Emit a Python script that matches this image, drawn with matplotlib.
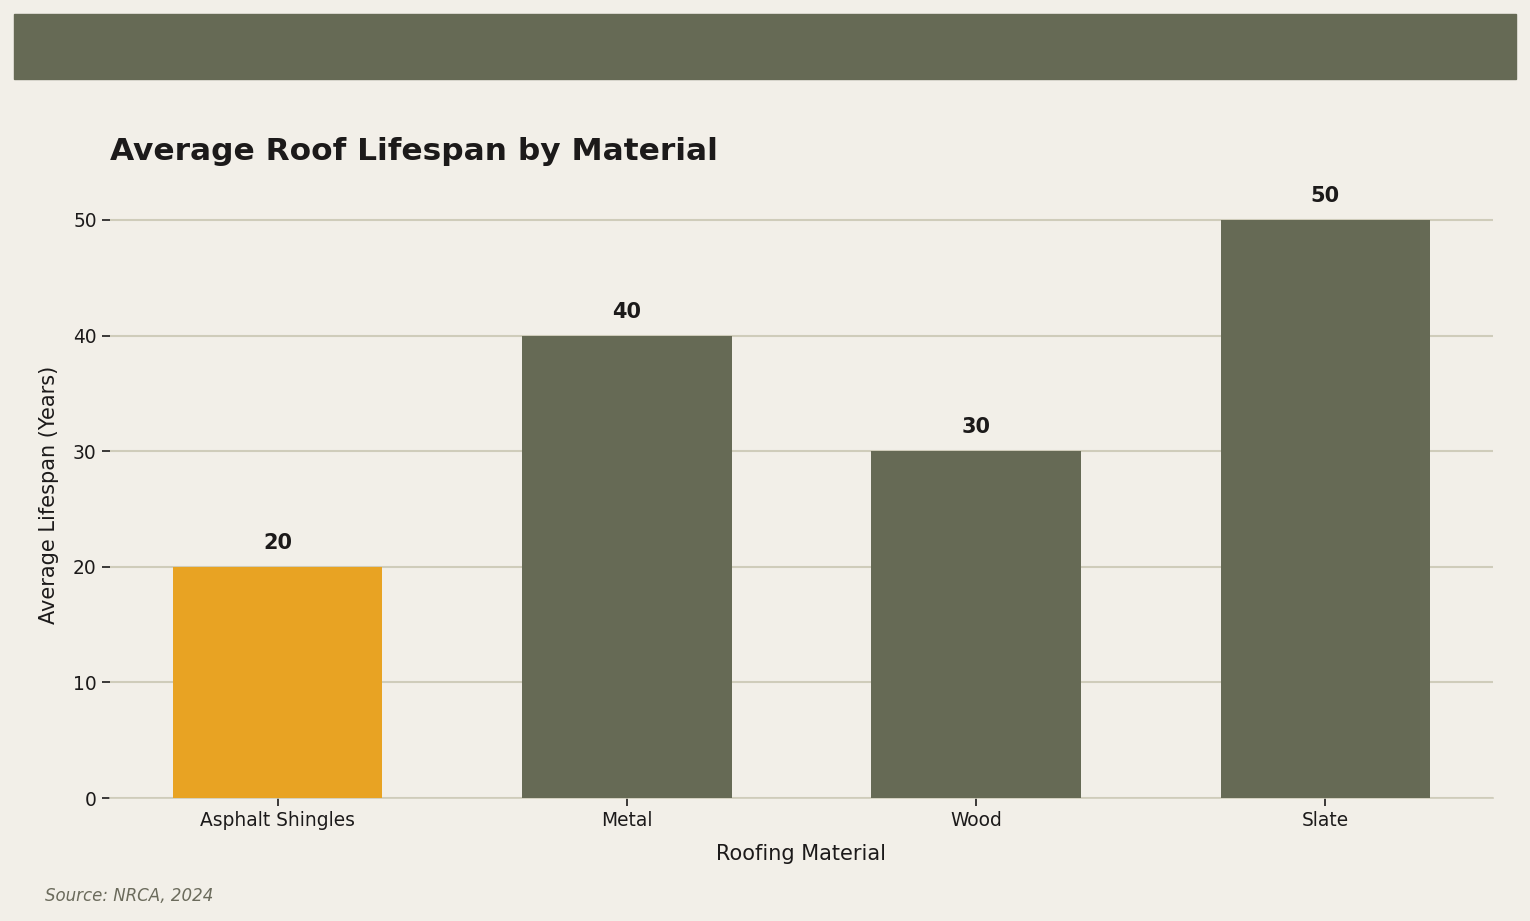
#!/usr/bin/env python3

import matplotlib
matplotlib.use('Agg')
import matplotlib.pyplot as plt
from matplotlib.patches import Rectangle

plt.rcParams['font.family'] = ['DejaVu Sans']

materials = ['Asphalt Shingles', 'Metal', 'Wood', 'Slate']
lifespans = [20, 40, 30, 50]
bar_colors = ['#e8a323', '#666a55', '#666a55', '#666a55']

title = 'Average Roof Lifespan by Material'
xlabel = 'Roofing Material'
ylabel = 'Average Lifespan (Years)'
source = 'Source: NRCA, 2024'

bg = '#f2efe8'
band = '#666a55'
textc = '#1c1a1a'
gridc = '#cfccba'


def main():
    fig = plt.figure(figsize=(15.3, 9.21), dpi=100, facecolor=bg)
    ax = fig.add_axes([110 / 1530, 1 - 798 / 921, (1493 - 110) / 1530, (798 - 191) / 921])
    ax.set_facecolor(bg)

    # top band
    fig.patches.append(Rectangle((14 / 1530, 1 - 79 / 921), (1516 - 14) / 1530, 65 / 921,
                                 transform=fig.transFigure, color=band, zorder=0))

    x = range(len(materials))
    bars = ax.bar(x, lifespans, width=0.6, color=bar_colors, zorder=3)

    for b, v in zip(bars, lifespans):
        ax.annotate(f'{v}', (b.get_x() + b.get_width() / 2, v), xytext=(0, 10),
                    textcoords='offset points', ha='center', va='bottom',
                    fontsize=15, fontweight='bold', color=textc)

    ax.set_xticks(list(x))
    ax.set_xticklabels(materials)
    ax.set_yticks([0, 10, 20, 30, 40, 50])
    ax.tick_params(axis='both', labelsize=13.4, colors=textc, length=6, width=1.2)

    ax.yaxis.grid(True, color=gridc, linewidth=1.5, zorder=0)
    ax.set_axisbelow(True)
    for s in ['top', 'right', 'left']:
        ax.spines[s].set_visible(False)
    ax.spines['bottom'].set_color(gridc)
    ax.spines['bottom'].set_linewidth(1.2)

    ax.set_xlabel(xlabel, fontsize=15, color=textc, labelpad=10)
    ax.set_ylabel(ylabel, fontsize=15, color=textc, labelpad=10)
    ax.set_title(title, loc='left', fontsize=22.5, fontweight='bold', color=textc, pad=22)

    fig.text(45 / 1530, 1 - 896 / 921, source, fontsize=12, style='italic',
             color='#6b6b5c', va='center', ha='left')

    plt.savefig('out.png', dpi=100, facecolor=bg)


if __name__ == '__main__':
    main()
